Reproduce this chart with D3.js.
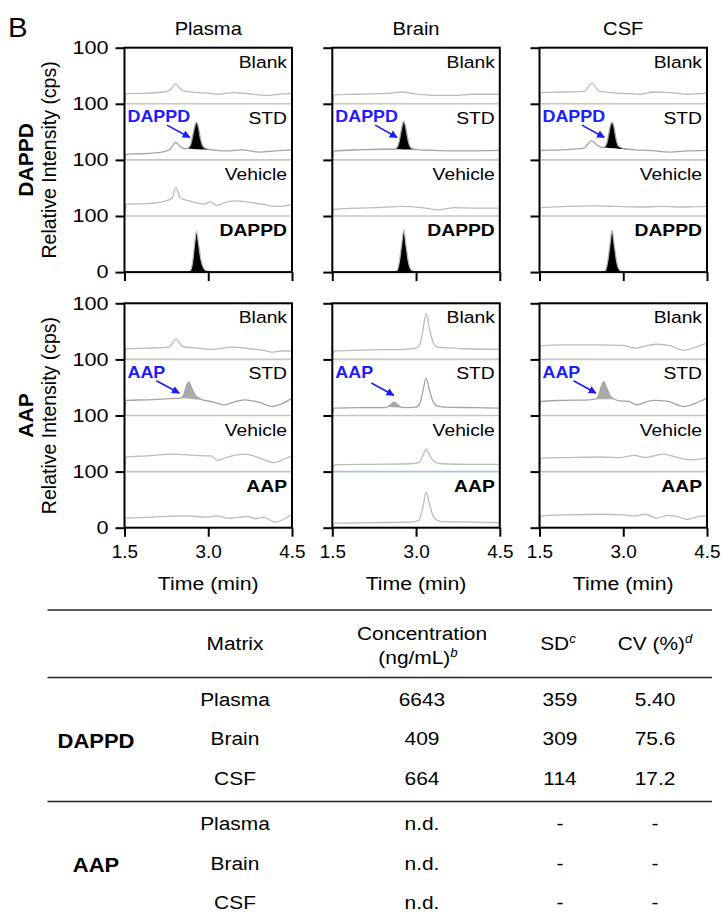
<!DOCTYPE html>
<html>
<head>
<meta charset="utf-8">
<script src="https://cdn.jsdelivr.net/npm/d3@7"></script>
<style>
  body { margin: 0; background: #fff; }
  svg { display: block; font-family: "Liberation Sans", Arial, Helvetica, sans-serif; }
</style>
</head>
<body>
<svg id="fig" width="721" height="921"></svg>
<script>
// ---- categories / ticks ----
const matrices = ["Plasma", "Brain", "CSF"];
const traceNames = ["Blank", "STD", "Vehicle"];   // 4th trace is the analyte itself
const analytes = ["DAPPD", "AAP"];
const xTicks = [1.5, 3.0, 4.5];
const yTicks = [0, 100, 200, 300, 400];

// ---- chromatograms, [time (min), relative intensity] ----
// DAPPD row
const dappdPlasmaBlank = [[1.5,0],[1.53,18],[1.9,19],[2.2,21],[2.33,26],[2.42,36],[2.5,27],[2.6,22],[2.8,20],[3.0,19],[3.18,17],[3.45,20],[3.7,18],[4.05,15],[4.25,17],[4.5,18]];
const dappdPlasmaStd = [[1.5,0],[1.53,10],[1.8,11],[2.1,13],[2.3,18],[2.42,31],[2.52,22],[2.62,20],[2.68,26],[2.72,42],[2.76,60],[2.79,67],[2.82,60],[2.86,38],[2.9,25],[2.96,20],[3.05,18],[3.15,17],[3.35,16],[3.6,18],[3.9,14],[4.2,16],[4.5,18]];
const dappdPlasmaVehicle = [[1.5,0],[1.54,21],[1.9,22],[2.25,27],[2.35,32],[2.42,51],[2.5,32],[2.7,26],[2.91,21],[3.04,25],[3.15,19],[3.3,24],[3.45,27],[3.7,25],[3.96,21],[4.2,17],[4.5,20]];
const dappdPlasmaAnalyte = [[1.5,0],[2.6,0],[2.68,3],[2.72,18],[2.75,45],[2.79,73],[2.83,48],[2.87,22],[2.92,7],[2.98,2],[3.1,0.5],[3.2,0],[4.5,0]];

const dappdBrainBlank = [[1.5,0],[1.53,16],[1.9,17],[2.3,18],[2.55,19],[2.74,21],[2.95,18],[3.3,15],[3.7,15],[4.0,17],[4.5,17]];
const dappdBrainStd = [[1.5,0],[1.53,16],[2.0,18],[2.4,19],[2.62,19],[2.68,26],[2.72,44],[2.75,60],[2.78,68],[2.81,60],[2.85,38],[2.89,24],[2.95,19],[3.05,18],[3.3,17],[3.8,16],[4.5,17]];
const dappdBrainVehicle = [[1.5,0],[1.53,12],[1.9,14],[2.3,15],[2.74,17],[3.1,15],[3.4,11],[3.7,15],[4.1,14],[4.5,14]];
const dappdBrainAnalyte = [[1.5,0],[2.6,0],[2.66,3],[2.7,18],[2.74,48],[2.78,75],[2.82,48],[2.86,20],[2.9,6],[2.96,1],[3.1,0],[4.5,0]];

const dappdCsfBlank = [[1.5,0],[1.53,20],[1.9,21],[2.3,22],[2.44,37],[2.56,23],[2.8,20],[3.1,18],[3.3,17],[3.54,21],[3.85,20],[4.14,17],[4.5,19]];
const dappdCsfStd = [[1.5,0],[1.53,17],[1.9,18],[2.3,21],[2.43,34],[2.55,25],[2.64,22],[2.7,28],[2.74,46],[2.77,61],[2.8,67],[2.83,60],[2.87,38],[2.91,25],[2.98,21],[3.1,19],[3.2,18],[3.45,17],[3.84,14],[4.15,16],[4.5,17]];
const dappdCsfVehicle = [[1.5,0],[1.53,15],[2.0,17],[2.5,18],[2.9,17],[3.3,16],[3.7,17],[4.1,16],[4.5,17]];
const dappdCsfAnalyte = [[1.5,0],[2.62,0],[2.68,3],[2.72,18],[2.76,48],[2.8,75],[2.84,48],[2.88,20],[2.92,6],[2.98,1],[3.1,0],[4.5,0]];

// AAP row
const aapPlasmaBlank = [[1.5,0],[1.53,19],[1.9,20],[2.3,22],[2.42,36],[2.54,23],[2.8,20],[3.1,18],[3.42,22],[3.75,19],[4.0,16],[4.13,13],[4.3,15],[4.5,15]];
const aapPlasmaStd = [[1.5,0],[1.53,27],[1.9,28],[2.3,30],[2.5,31],[2.56,36],[2.6,50],[2.65,60],[2.7,50],[2.76,37],[2.83,31],[2.9,28],[3.1,24],[3.28,19],[3.45,24],[3.65,28],[3.9,24],[4.15,16],[4.3,20],[4.5,31]];
const aapPlasmaVehicle = [[1.5,0],[1.53,26],[1.9,28],[2.4,31],[2.75,29],[3.05,28],[3.16,20],[3.35,26],[3.65,31],[3.9,25],[4.18,16],[4.35,22],[4.5,28]];
const aapPlasmaAnalyte = [[1.5,0],[1.53,17],[2.0,19],[2.6,21],[3.0,19],[3.15,21],[3.35,17],[3.7,20],[3.85,16],[3.98,19],[4.2,10],[4.35,15],[4.5,24]];

const aapBrainBlank = [[1.5,0],[1.53,15],[2.2,17],[2.8,18],[3.0,20],[3.07,27],[3.12,50],[3.18,82],[3.24,55],[3.3,32],[3.38,22],[3.5,21],[3.9,19],[4.5,18]];
const aapBrainStd = [[1.5,0],[1.53,13],[2.0,14],[2.4,14],[2.48,15],[2.55,20],[2.6,24],[2.66,20],[2.74,15],[2.82,14],[3.0,15],[3.07,22],[3.12,42],[3.18,66],[3.24,45],[3.3,26],[3.38,17],[3.5,15],[4.0,14],[4.5,13]];
const aapBrainVehicle = [[1.5,0],[1.53,12],[2.2,13],[2.9,14],[3.05,16],[3.12,28],[3.18,40],[3.24,30],[3.32,18],[3.45,14],[4.0,13],[4.5,13]];
const aapBrainAnalyte = [[1.5,0],[1.53,8],[2.2,9],[2.9,10],[3.05,13],[3.12,35],[3.18,63],[3.24,42],[3.32,18],[3.45,11],[4.0,10],[4.5,9]];

const aapCsfBlank = [[1.5,0],[1.52,24],[1.9,26],[2.5,26],[3.0,25],[3.22,20],[3.4,24],[3.62,27],[3.85,24],[4.08,16],[4.3,22],[4.5,29]];
const aapCsfStd = [[1.5,0],[1.52,25],[1.9,27],[2.4,28],[2.5,29],[2.56,36],[2.6,50],[2.65,60],[2.7,50],[2.76,36],[2.84,29],[2.95,26],[3.1,25],[3.24,19],[3.4,24],[3.56,27],[3.8,25],[4.08,16],[4.3,22],[4.5,31]];
const aapCsfVehicle = [[1.5,0],[1.52,24],[2.0,25],[2.6,26],[2.95,25],[3.2,29],[3.38,25],[3.72,31],[3.95,26],[4.2,21],[4.5,24]];
const aapCsfAnalyte = [[1.5,0],[1.52,21],[2.0,23],[2.6,24],[3.0,23],[3.2,21],[3.4,24],[3.6,17],[3.8,22],[4.0,19],[4.15,15],[4.35,20],[4.5,21]];

// integrated peak windows (min) per matrix
const dappdPeakWindow = [[2.62, 3.15], [2.62, 3.05], [2.64, 3.2]];
const dappdAnalyteWindow = [[2.6, 3.2], [2.6, 3.1], [2.62, 3.1]];
const aapPeakWindow = [[2.5, 2.9], [2.48, 2.82], [2.5, 2.84]];

// blue arrow annotations on the STD trace: [time, intensity]
const dappdArrowFrom = [[2.26, 62], [2.27, 62], [2.26, 62]];
const dappdArrowTo = [[2.67, 40], [2.66, 40], [2.66, 40]];
const aapArrowFrom = [[2.07, 62], [2.2, 58], [2.11, 62]];
const aapArrowTo = [[2.48, 40], [2.6, 36], [2.51, 40]];

// ---- table ----
const tableHeader = ["Matrix", "Concentration", "SD", "CV (%)"];
const tableMatrix = ["Plasma", "Brain", "CSF"];
const dappdConc = ["6643", "409", "664"];
const dappdSD = ["359", "309", "114"];
const dappdCV = ["5.40", "75.6", "17.2"];
const aapConc = ["n.d.", "n.d.", "n.d."];
const aapSD = ["-", "-", "-"];
const aapCV = ["-", "-", "-"];

// ---- layout ----
const svg = d3.select("#fig");
const colX = [124.5, 332.3, 539.5];
const rowY = [47.7, 303.3];
const pw = 167.5, ph = 224.4;
const blue = "#1c1cff";
const sx = 1.15;

const x = d3.scaleLinear().domain([1.5, 4.5]).range([0, pw]);
const yStack = d3.scaleLinear().domain([0, 400]).range([ph, 0]);

function label(g, px, py, s, size, opt = {}) {
  return g.append("text")
    .attr("transform", `translate(${px},${py}) scale(${opt.sx || sx},1)`)
    .attr("font-size", size)
    .attr("text-anchor", opt.anchor || "start")
    .attr("font-weight", opt.bold ? "bold" : null)
    .attr("fill", opt.fill || "#000")
    .text(s);
}

const defs = svg.append("defs");
defs.append("marker").attr("id", "ah")
  .attr("viewBox", "0 0 10 10").attr("refX", 9).attr("refY", 5)
  .attr("markerWidth", 5).attr("markerHeight", 5).attr("orient", "auto")
  .append("path").attr("d", "M0,0L10,5L0,10z").attr("fill", blue);

const rows = [
  { name: "DAPPD", traces: [
      [dappdPlasmaBlank, dappdPlasmaStd, dappdPlasmaVehicle, dappdPlasmaAnalyte],
      [dappdBrainBlank, dappdBrainStd, dappdBrainVehicle, dappdBrainAnalyte],
      [dappdCsfBlank, dappdCsfStd, dappdCsfVehicle, dappdCsfAnalyte]],
    stdWin: dappdPeakWindow, anaWin: dappdAnalyteWindow, fill: "#000",
    from: dappdArrowFrom, to: dappdArrowTo },
  { name: "AAP", traces: [
      [aapPlasmaBlank, aapPlasmaStd, aapPlasmaVehicle, aapPlasmaAnalyte],
      [aapBrainBlank, aapBrainStd, aapBrainVehicle, aapBrainAnalyte],
      [aapCsfBlank, aapCsfStd, aapCsfVehicle, aapCsfAnalyte]],
    stdWin: aapPeakWindow, anaWin: null, fill: "#a9a9a9",
    from: aapArrowFrom, to: aapArrowTo }
];

// panel letter
label(svg, 8, 37, "B", 28, { sx: 1.05 });

// column titles
matrices.forEach((m, c) => label(svg, colX[c] + pw / 2, 34.5, m, 18, { anchor: "middle", sx: 1.12 }));

rows.forEach((row, r) => {
  // row labels (rotated)
  const cy = rowY[r] + ph / 2;
  svg.append("text").attr("transform", `translate(33,${cy}) rotate(-90)`)
    .attr("text-anchor", "middle").attr("font-size", 21).attr("font-weight", "bold").text(row.name);
  svg.append("text").attr("transform", `translate(56,${cy}) rotate(-90)`)
    .attr("text-anchor", "middle").attr("font-size", 19.5).text("Relative Intensity (cps)");

  row.traces.forEach((set, c) => {
    const g = svg.append("g").attr("transform", `translate(${colX[c]},${rowY[r]})`);
    const clipId = `clip${r}${c}`;
    defs.append("clipPath").attr("id", clipId).append("rect").attr("width", pw).attr("height", ph);
    const plot = g.append("g").attr("clip-path", `url(#${clipId})`);

    // dividers between stacked traces
    [100, 200, 300].forEach(lv => {
      plot.append("line").attr("x1", 0).attr("x2", pw)
        .attr("y1", yStack(lv)).attr("y2", yStack(lv))
        .attr("stroke", (r === 1 && c === 1 && lv === 100) ? "#a6c4de" : "#c6c6c6")
        .attr("stroke-width", 1.6);
    });

    set.forEach((pts, k) => {
      const off = (3 - k) * 100;
      const line = d3.line().curve(d3.curveMonotoneX)
        .x(d => x(d[0])).y(d => yStack(d[1] + off));

      const win = k === 1 ? row.stdWin[c] : (k === 3 && row.anaWin ? row.anaWin[c] : null);
      if (win) {
        const sub = pts.filter(d => d[0] >= win[0] && d[0] <= win[1]);
        const a = sub[0], b = sub[sub.length - 1];
        const base = t => a[1] + (b[1] - a[1]) * (t - a[0]) / (b[0] - a[0]);
        const area = d3.area().curve(d3.curveMonotoneX)
          .x(d => x(d[0])).y0(d => yStack(base(d[0]) + off)).y1(d => yStack(d[1] + off));
        plot.append("path").datum(sub).attr("d", area).attr("fill", row.fill);
      }
      plot.append("path").datum(pts).attr("d", line)
        .attr("fill", "none")
        .attr("stroke", k === 1 ? "#a4a4a4" : "#bcbcbc")
        .attr("stroke-width", 1.3);
    });

    // trace labels
    traceNames.concat([row.name]).forEach((t, k) => {
      const top = yStack((4 - k) * 100);
      label(g, pw - 5, top + 20, t, 16.5, { anchor: "end", bold: k === 3, sx: 1.17 });
    });

    // blue annotation on STD
    const stdOff = 200;
    label(g, 3, yStack(300) + 18.5, row.name, 16, { bold: true, fill: blue, sx: 1.12 });
    g.append("line")
      .attr("x1", x(row.from[c][0])).attr("y1", yStack(row.from[c][1] + stdOff))
      .attr("x2", x(row.to[c][0])).attr("y2", yStack(row.to[c][1] + stdOff))
      .attr("stroke", blue).attr("stroke-width", 1.6).attr("marker-end", "url(#ah)");

    // frame
    g.append("rect").attr("width", pw).attr("height", ph)
      .attr("fill", "none").attr("stroke", "#000").attr("stroke-width", 2);

    // y axis
    const ya = g.append("g").call(d3.axisLeft(yStack).tickValues(yTicks).tickSize(9)
      .tickSizeOuter(0).tickPadding(7).tickFormat(d => c === 0 ? (d ? "100" : "0") : ""));
    ya.select(".domain").remove();
    ya.selectAll("line").attr("stroke", "#000").attr("stroke-width", 2);
    ya.selectAll("text").attr("font-size", 18).attr("font-family", null)
      .attr("x", -16 / 1.2).attr("transform", "scale(1.2,1)");

    // x axis
    const xa = g.append("g").attr("transform", `translate(0,${ph})`)
      .call(d3.axisBottom(x).tickValues(xTicks).tickSize(9).tickSizeOuter(0).tickPadding(9)
        .tickFormat(r === 1 ? d3.format(".1f") : () => ""));
    xa.select(".domain").remove();
    xa.selectAll("line").attr("stroke", "#000").attr("stroke-width", 2);
    xa.selectAll("text").attr("font-size", 17.5).attr("font-family", null).attr("transform", "scale(1.08,1)");

    if (r === 1) label(g, pw / 2, ph + 62, "Time (min)", 19, { anchor: "middle", sx: 1.12 });
  });
});

// ---- table ----
const tx0 = 47.5, tx1 = 712;
const tcol = [96, 235, 422, 560, 655];
const tsx = 1.1, tfs = 19;
[610, 677.5, 801.5].forEach(yy => {
  svg.append("line").attr("x1", tx0).attr("x2", tx1).attr("y1", yy).attr("y2", yy)
    .attr("stroke", "#222").attr("stroke-width", 1.5);
});

label(svg, tcol[1], 650, tableHeader[0], tfs, { anchor: "middle", sx: tsx });
label(svg, tcol[2], 640, tableHeader[1], tfs, { anchor: "middle", sx: tsx });
const ng = label(svg, tcol[2] - 4, 664, "(ng/mL)", tfs, { anchor: "middle", sx: tsx });
ng.append("tspan").attr("font-size", 12).attr("font-style", "italic").attr("dy", -7).text("b");
const sd = label(svg, tcol[3] - 2, 650, tableHeader[2], tfs, { anchor: "middle", sx: tsx });
sd.append("tspan").attr("font-size", 12).attr("font-style", "italic").attr("dy", -7).text("c");
const cv = label(svg, tcol[4], 650, tableHeader[3], tfs, { anchor: "middle", sx: tsx });
cv.append("tspan").attr("font-size", 12).attr("font-style", "italic").attr("dy", -7).text("d");

const groups = [
  { name: "DAPPD", conc: dappdConc, sd: dappdSD, cv: dappdCV, rowsY: [706, 745, 784.5], gy: 748 },
  { name: "AAP", conc: aapConc, sd: aapSD, cv: aapCV, rowsY: [830, 869.5, 909], gy: 872 }
];
groups.forEach(gr => {
  label(svg, tcol[0], gr.gy, gr.name, 20, { anchor: "middle", bold: true, sx: tsx });
  tableMatrix.forEach((m, i) => {
    const yy = gr.rowsY[i];
    label(svg, tcol[1], yy, m, tfs, { anchor: "middle", sx: tsx });
    label(svg, tcol[2], yy, gr.conc[i], tfs, { anchor: "middle", sx: tsx });
    label(svg, tcol[3], yy, gr.sd[i], tfs, { anchor: "middle", sx: tsx });
    label(svg, tcol[4], yy, gr.cv[i], tfs, { anchor: "middle", sx: tsx });
  });
});
</script>
</body>
</html>
